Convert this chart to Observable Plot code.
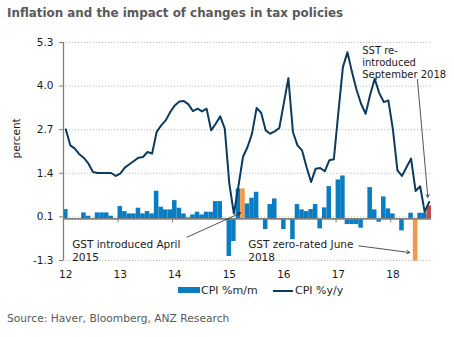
<!DOCTYPE html>
<html><head><meta charset="utf-8">
<script src="https://cdn.jsdelivr.net/npm/d3@7"></script>
<script src="https://cdn.jsdelivr.net/npm/@observablehq/plot@0.6"></script>
<style>
body{margin:0;background:#fff;width:454px;height:337px;position:relative;overflow:hidden;font-family:"DejaVu Sans",Verdana,sans-serif}
#title{position:absolute;left:7px;top:6px;font-weight:bold;font-size:11.9px;line-height:14px;color:#595959;white-space:nowrap}
#chart{position:absolute;left:0;top:28px}
#chart svg{overflow:visible}
.lt{position:absolute;top:283.7px;font-size:11px;line-height:13px;color:#262626;white-space:nowrap}
.sw{position:absolute}
#source{position:absolute;left:7px;top:311.5px;font-size:10.7px;line-height:13px;color:#595959;white-space:nowrap}
</style></head><body>
<div id="title">Inflation and the impact of changes in tax policies</div>
<div id="chart"></div>
<div id="legend"></div>
<div id="source">Source: Haver, Bloomberg, ANZ Research</div>
<script>
// ---- data ----
const yearLabels = ["12","13","14","15","16","17","18"];
const seriesNames = ["CPI %m/m","CPI %y/y"];
// monthly, Jan 2012 .. Sep 2018
const cpiMoM = [0.28,0,0,0,0.18,0.08,0,0.18,0.18,0.18,0.08,0,
 0.37,0.22,0.15,0.15,0.32,0.15,0.22,0.15,0.83,0.35,0.27,0.27,
 0.55,0.32,0.15,0.03,0.12,0.2,0.12,0.2,0.2,0.52,0.52,0,
 -1.13,-0.68,0.9,0.9,0.45,0.62,0.8,0,-0.32,0.43,0.6,0,
 -0.32,0,-0.62,0.43,0.27,0.22,0.28,0.43,-0.3,0.33,0.97,0,
 1.17,1.29,-0.17,-0.17,-0.17,-0.28,0,0.94,0.27,-0.1,0.66,0.3,
 0.15,0,-0.36,0,0.17,-1.27,0.17,0.17,0.39];
const cpiYoY = [2.69,2.21,2.11,1.94,1.83,1.66,1.41,1.38,1.38,1.38,1.38,1.29,
 1.36,1.54,1.64,1.74,1.84,1.86,2.01,1.96,2.61,2.81,2.96,3.21,
 3.41,3.53,3.54,3.44,3.24,3.31,3.23,3.31,2.66,2.86,3.08,2.71,
 1.06,0.16,0.98,1.86,2.16,2.56,3.33,3.19,2.66,2.56,2.63,2.73,
 3.48,4.23,2.61,2.21,2.06,1.56,1.11,1.51,1.53,1.43,1.76,1.79,
 3.2,4.56,5.01,4.41,3.88,3.46,3.16,3.73,4.21,3.78,3.51,3.56,
 2.7,1.46,1.29,1.55,1.81,0.84,0.98,0.21,0.51];
// tax-policy months (index from Jan 2012)
const taxEventMonths = [39, 77, 80];
const taxEventKinds = ["GST", "GST", "SST"];
const yTickLabels = ["-1.3","0.1","1.4","2.7","4.0","5.3"];
const yMin = -1.25, yMax = 5.3;
// annotations (data coordinates)
const notes = [
  {text: "GST introduced April\n2015", tx: 1.9, ty: -0.58, ax1: 27.2, ay1: -0.55, ax2: 39, ay2: 0.18, size: 10.5, lh: 1.27},
  {text: "GST zero-rated June\n2018", tx: 40.66, ty: -0.58, ax1: 65.0, ay1: -0.81, ax2: 76.2, ay2: -1.01, size: 10.5, lh: 1.27},
  {text: "SST re-\nintroduced\nSeptember 2018", tx: 65.75, ty: 5.21, ax1: 77.9, ay1: 4.19, ax2: 80.2, ay2: 0.65, size: 10, lh: 1.2}
];

// ---- build ----
const BLUE = "#0a7cc1", ORANGE = "#f79646", RED = "#c0504d", NAVY = "#0d3b5f";
const months = cpiMoM.map((v, i) => {
  const k = taxEventMonths.indexOf(i);
  return {i, mom: v, yoy: cpiYoY[i], kind: k >= 0 ? taxEventKinds[k] : "none"};
});
const fillOf = k => k === "GST" ? ORANGE : k === "SST" ? RED : BLUE;
const n = months.length;
const step = (yMax - yMin) / (yTickLabels.length - 1);
const yTicks = yTickLabels.map((_, k) => yMin + k * step);
const yearStarts = yearLabels.map((_, k) => k * 12).filter(d => d > 0);

const chart = Plot.plot({
  width: 454, height: 256,
  marginTop: 14, marginBottom: 24, marginLeft: 63, marginRight: 23,
  x: {domain: [0, n], axis: null},
  y: {domain: [yMin, yMax], axis: null},
  style: {fontFamily: "DejaVu Sans", fontSize: "10.5px", color: "#1a1a1a", background: "#fff"},
  marks: [
    Plot.ruleY(yTicks, {x1: 0, x2: n, stroke: "#bdbdbd", strokeDasharray: "1.2,1.8"}),
    Plot.rect(months, {x1: "i", x2: d => d.i + 1, y1: 0, y2: "mom", fill: d => fillOf(d.kind)}),
    Plot.ruleY([0], {x1: 0, x2: n, stroke: "#808080", strokeWidth: 1.6}),
    Plot.ruleX(yearStarts, {y1: 0, y2: 0, insetBottom: -4, stroke: "#808080"}),
    Plot.ruleX([0], {y1: yMin, y2: yMax, stroke: "#808080", strokeWidth: 1.3}),
    Plot.lineY(months, {x: d => d.i + 0.5, y: "yoy", stroke: NAVY, strokeWidth: 2}),
    Plot.axisY(yTicks, {tickSize: 4, tickPadding: 6, stroke: "#808080", label: null,
      tickFormat: d => yTickLabels[Math.round((d - yMin) / step)]}),
    Plot.axisX(yearLabels.map((_, k) => k * 12 + 0.5), {tickSize: 0, tickPadding: 10.5, label: null,
      tickFormat: d => yearLabels[Math.round((d - 0.5) / 12)]}),
    Plot.text(["percent"], {frameAnchor: "left", rotate: -90, dx: -47, dy: 7, fontSize: 10.5}),
    Plot.arrow(notes, {x1: "ax1", y1: "ay1", x2: "ax2", y2: "ay2", stroke: "#262626", strokeWidth: 0.8, headLength: 6}),
    Plot.text(notes.filter(d => d.size === 10.5), {x: "tx", y: "ty", text: "text", textAnchor: "start", lineAnchor: "top", lineHeight: 1.27, fontSize: 10.5, fill: "#1a1a1a"}),
    Plot.text(notes.filter(d => d.size === 10), {x: "tx", y: "ty", text: "text", textAnchor: "start", lineAnchor: "top", lineHeight: 1.2, fontSize: 10, fill: "#1a1a1a"})
  ]
});
document.getElementById("chart").appendChild(chart);

// legend
const lg = document.getElementById("legend");
lg.innerHTML =
  `<div class="sw" style="left:178px;top:287.3px;width:22px;height:6px;background:${BLUE}"></div>` +
  `<div class="lt" style="left:201px">${seriesNames[0]}</div>` +
  `<div class="sw" style="left:273px;top:289.7px;width:20px;height:2px;background:${NAVY}"></div>` +
  `<div class="lt" style="left:295px">${seriesNames[1]}</div>`;
</script>
</body></html>
